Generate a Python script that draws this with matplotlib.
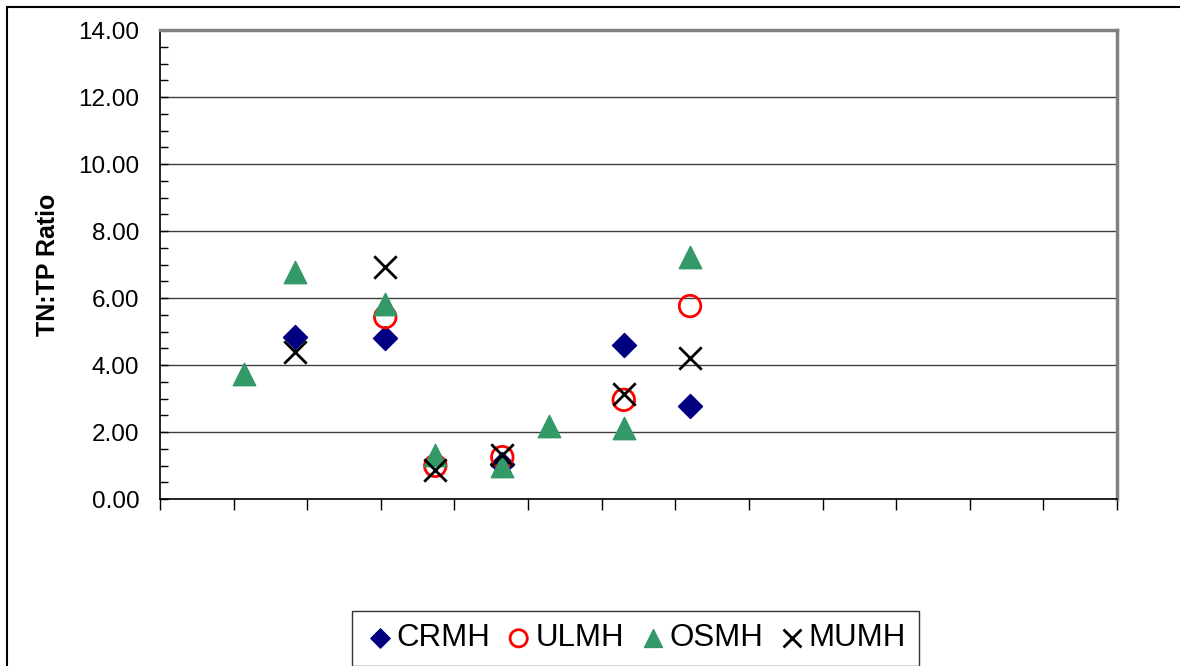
import numpy as np
import matplotlib.pyplot as plt
from matplotlib.patches import Rectangle
from matplotlib.ticker import MultipleLocator, FormatStrFormatter

plt.rcParams['font.family'] = ['Liberation Sans', 'DejaVu Sans']

# data (x positions in axis units 0..13)
crmh_x = [1.83, 3.06, 4.65, 6.30, 7.20]
crmh_y = [4.84, 4.81, 1.05, 4.60, 2.78]

ulmh_x = [3.06, 3.74, 4.65, 6.30, 7.20]
ulmh_y = [5.43, 0.99, 1.25, 2.96, 5.76]

osmh_x = [1.14, 1.83, 3.06, 3.74, 4.65, 5.29, 6.30, 7.20]
osmh_y = [3.73, 6.78, 5.82, 1.31, 0.99, 2.18, 2.12, 7.22]

mumh_x = [1.83, 3.06, 3.74, 4.65, 6.30, 7.20]
mumh_y = [4.39, 6.93, 0.87, 1.31, 3.13, 4.21]

fig = plt.figure(figsize=(11.8, 6.66), dpi=100)
fig.patches.append(Rectangle((7/1180, -0.1), 1.2, 1.1 - 7/666, transform=fig.transFigure,
                             fill=False, edgecolor='black', linewidth=1.5))
ax = fig.add_axes([160/1180, 1 - 499/666, 957/1180, 469/666])

ax.scatter(crmh_x, crmh_y, marker='D', s=150, color='#000080', label='CRMH', zorder=3)
ax.scatter(ulmh_x, ulmh_y, marker='o', s=240, facecolors='none', edgecolors='#ff0000',
           linewidths=2, label='ULMH', zorder=3)
ax.scatter(osmh_x, osmh_y, marker='^', s=260, color='#339966', label='OSMH', zorder=3)
ax.scatter(mumh_x, mumh_y, marker='x', s=260, color='black', linewidths=2, label='MUMH', zorder=4)

ax.set_xlim(0, 13)
ax.set_ylim(0, 14)
ax.xaxis.set_major_locator(MultipleLocator(1))
ax.set_xticklabels([])
ax.tick_params(axis='x', direction='out', length=8, width=1, colors='black')
ax.yaxis.set_major_locator(MultipleLocator(2))
ax.yaxis.set_minor_locator(MultipleLocator(0.5))
ax.yaxis.set_major_formatter(FormatStrFormatter('%.2f'))
ax.tick_params(axis='y', which='both', direction='in', length=6, width=1, labelsize=17.5, pad=15)
ax.grid(axis='y', color='#404040', linewidth=1)
ax.set_axisbelow(True)
ax.set_ylabel('TN:TP Ratio', fontsize=18, fontweight='bold', labelpad=13)

for s in ['top', 'right']:
    ax.spines[s].set_color('#808080')
    ax.spines[s].set_linewidth(2.5)
for s in ['left', 'bottom']:
    ax.spines[s].set_color('black')
    ax.spines[s].set_linewidth(1.2)

leg = fig.legend(loc='lower center', bbox_to_anchor=(635/1180, 0), ncol=4, fontsize=22.5,
                 frameon=True, fancybox=False, edgecolor='black', handletextpad=0.05,
                 columnspacing=0.4, handlelength=1.0, borderpad=0.4, borderaxespad=0,
                 scatterpoints=1, markerscale=0.8)
leg.get_frame().set_linewidth(1)

fig.savefig('out.png', dpi=100)
